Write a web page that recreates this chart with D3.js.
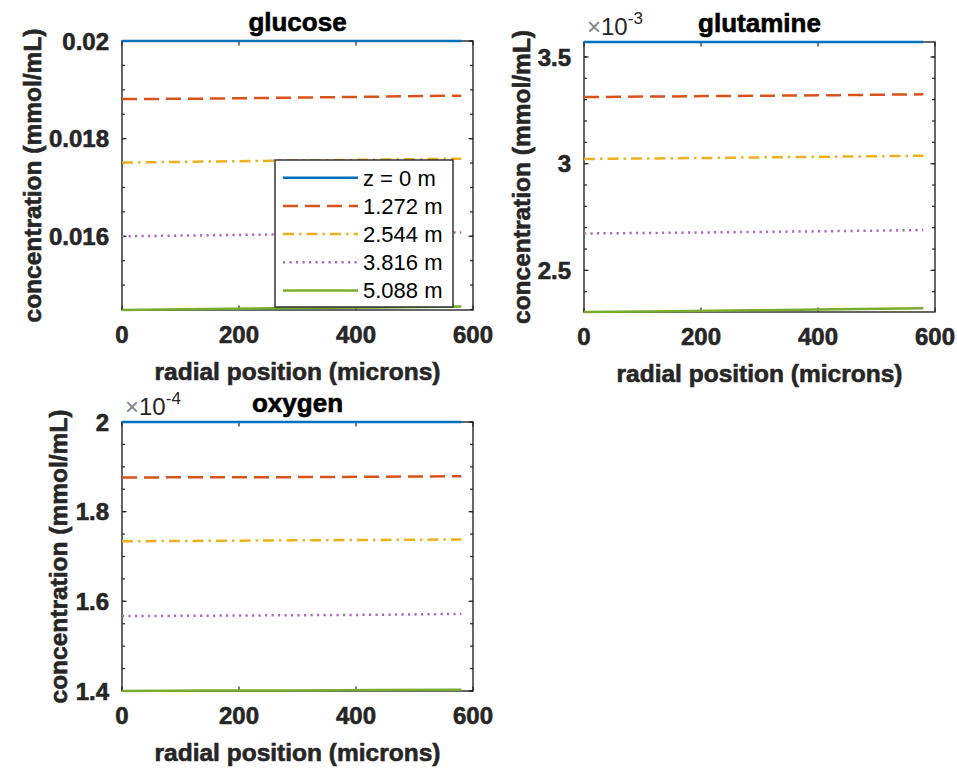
<!DOCTYPE html>
<html>
<head>
<meta charset="utf-8">
<script src="https://cdn.jsdelivr.net/npm/d3@7"></script>
<style>
  body { margin: 0; background: #fff; }
  svg { display: block; font-family: "Liberation Sans", Arial, sans-serif; }
  .heavy { stroke: currentColor; stroke-width: 0.6px; }
</style>
</head>
<body>
<svg width="957" height="769"></svg>
<script>
// radial positions (microns) at which the profiles were sampled
const radius = [0, 145, 290, 435, 580];
const zLabels = ['z = 0 m', '1.272 m', '2.544 m', '3.816 m', '5.088 m'];

// concentration (mmol/mL), one row per axial position z
const glucose = [
  [0.02000, 0.02000, 0.02000, 0.02000, 0.02000],
  [0.01881, 0.01882, 0.01884, 0.01886, 0.01888],
  [0.01751, 0.01753, 0.01755, 0.01757, 0.01759],
  [0.01600, 0.01602, 0.01604, 0.01606, 0.01608],
  [0.01449, 0.01451, 0.01453, 0.01454, 0.01456]
];
const glutamine = [
  [0.003570, 0.003570, 0.003570, 0.003570, 0.003570],
  [0.003312, 0.003315, 0.003318, 0.003321, 0.003325],
  [0.003022, 0.003025, 0.003029, 0.003033, 0.003037],
  [0.002673, 0.002676, 0.002680, 0.002684, 0.002689],
  [0.002305, 0.002309, 0.002313, 0.002318, 0.002323]
];
const oxygen = [
  [2.000e-4, 2.000e-4, 2.000e-4, 2.000e-4, 2.000e-4],
  [1.876e-4, 1.877e-4, 1.877e-4, 1.878e-4, 1.879e-4],
  [1.734e-4, 1.735e-4, 1.736e-4, 1.737e-4, 1.738e-4],
  [1.567e-4, 1.568e-4, 1.569e-4, 1.570e-4, 1.572e-4],
  [1.400e-4, 1.401e-4, 1.401e-4, 1.402e-4, 1.403e-4]
];

// tick values and labels
const xTicks = [0, 200, 400, 600];
const glucoseTicks = [0.016, 0.018, 0.02];
const glucoseTickLabels = ['0.016', '0.018', '0.02'];
const glutamineTicks = [0.0025, 0.003, 0.0035];
const glutamineTickLabels = ['2.5', '3', '3.5'];
const oxygenTicks = [1.4e-4, 1.6e-4, 1.8e-4, 2e-4];
const oxygenTickLabels = ['1.4', '1.6', '1.8', '2'];

// MATLAB default line order
const colors = ['#0072BD', '#D95319', '#EDB120', '#a56cb8', '#77AC30'];
const dashes = [null, '15,7', '11,5,2.5,5', '2.2,4.3', null];

const panels = [
  { title: 'glucose', data: glucose, ticks: glucoseTicks, labels: glucoseTickLabels,
    minor: 0.0005, exp: null, x: 122, y: 41, w: 351, h: 269, ylabX: 41, legend: true },
  { title: 'glutamine', data: glutamine, ticks: glutamineTicks, labels: glutamineTickLabels,
    minor: 0.0001, exp: '-3', x: 584, y: 42, w: 351, h: 270, ylabX: 530 },
  { title: 'oxygen', data: oxygen, ticks: oxygenTicks, labels: oxygenTickLabels,
    minor: 0.05e-4, exp: '-4', x: 122, y: 422, w: 351, h: 269, ylabX: 67 }
];

const svg = d3.select('svg');
const axisColor = '#262626';

panels.forEach(p => {
  const xScale = d3.scaleLinear().domain([0, 600]).range([p.x, p.x + p.w]);
  const yScale = d3.scaleLinear()
    .domain(d3.extent(p.data.flat()))
    .range([p.y + p.h, p.y]);

  const g = svg.append('g').style('color', axisColor);

  // box
  g.append('rect')
    .attr('x', p.x).attr('y', p.y)
    .attr('width', p.w).attr('height', p.h)
    .attr('fill', 'none')
    .attr('stroke', axisColor)
    .attr('stroke-width', 1.4);

  // ticks, all pointing inward
  const ticks = g.append('g');
  const [lo, hi] = yScale.domain();
  const minorTicks = d3.range(Math.ceil(lo / p.minor - 1e-6), Math.floor(hi / p.minor + 1e-6) + 1)
    .map(k => k * p.minor);
  minorTicks.forEach(v => {
    const y = yScale(v);
    ticks.append('line').attr('x1', p.x).attr('x2', p.x + 3).attr('y1', y).attr('y2', y);
    ticks.append('line').attr('x1', p.x + p.w).attr('x2', p.x + p.w - 3).attr('y1', y).attr('y2', y);
  });
  p.ticks.forEach(v => {
    const y = yScale(v);
    ticks.append('line').attr('x1', p.x).attr('x2', p.x + 4.5).attr('y1', y).attr('y2', y);
    ticks.append('line').attr('x1', p.x + p.w).attr('x2', p.x + p.w - 4.5).attr('y1', y).attr('y2', y);
  });
  xTicks.forEach(v => {
    const x = xScale(v);
    ticks.append('line').attr('x1', x).attr('x2', x).attr('y1', p.y + p.h).attr('y2', p.y + p.h - 4.5);
    ticks.append('line').attr('x1', x).attr('x2', x).attr('y1', p.y).attr('y2', p.y + 4.5);
  });
  ticks.selectAll('line').attr('stroke', axisColor).attr('stroke-width', 1.2);

  // lines
  const line = d3.line()
    .x((d, i) => xScale(radius[i]))
    .y(d => yScale(d));

  g.selectAll('path.series')
    .data(p.data)
    .enter()
    .append('path')
      .classed('series', true)
      .attr('d', line)
      .attr('fill', 'none')
      .attr('stroke', (d, i) => colors[i])
      .attr('stroke-width', 2.5)
      .attr('stroke-dasharray', (d, i) => dashes[i]);

  // tick labels
  g.selectAll('text.ytick')
    .data(p.ticks)
    .enter()
    .append('text')
      .classed('heavy', true)
      .attr('x', p.x - 13)
      .attr('y', d => yScale(d))
      .attr('dy', '0.36em')
      .attr('text-anchor', 'end')
      .style('font-size', '24px')
      .style('font-weight', 'bold')
      .attr('fill', axisColor)
      .text((d, i) => p.labels[i]);

  g.selectAll('text.xtick')
    .data(xTicks)
    .enter()
    .append('text')
      .classed('heavy', true)
      .attr('x', d => xScale(d))
      .attr('y', p.y + p.h + 33)
      .attr('text-anchor', 'middle')
      .style('font-size', '24px')
      .style('font-weight', 'bold')
      .attr('fill', axisColor)
      .text(d => d);

  // axis labels and title
  g.append('text')
    .classed('heavy', true)
    .attr('x', p.x + p.w / 2)
    .attr('y', p.y + p.h + 70)
    .attr('text-anchor', 'middle')
    .attr('fill', axisColor)
    .style('font-size', '24.5px')
    .style('font-weight', 'bold')
    .text('radial position (microns)');

  g.append('text')
    .classed('heavy', true)
    .attr('transform', `translate(${p.ylabX}, ${p.y + p.h / 2}) rotate(-90)`)
    .attr('text-anchor', 'middle')
    .attr('fill', axisColor)
    .style('font-size', '24.5px')
    .style('font-weight', 'bold')
    .text('concentration (mmol/mL)');

  g.append('text')
    .classed('heavy', true)
    .attr('x', p.x + p.w / 2)
    .attr('y', p.y - 10)
    .attr('text-anchor', 'middle')
    .style('color', '#000')
    .style('font-size', '26px')
    .style('font-weight', 'bold')
    .text(p.title);

  // exponent label
  if (p.exp) {
    const ex = g.append('text')
      .attr('x', p.x + 3)
      .attr('y', p.y - 7)
      .attr('fill', axisColor)
      .style('font-size', '24px');
    ex.append('tspan').attr('fill', '#808080').text('\u00d7');
    ex.append('tspan').text('10');
    ex.append('tspan')
      .attr('dy', -11)
      .style('font-size', '17px')
      .text(p.exp);
  }

  // legend
  if (p.legend) {
    const lg = g.append('g').attr('transform', 'translate(275, 160)');
    lg.append('rect')
      .attr('width', 178).attr('height', 147)
      .attr('fill', '#fff')
      .attr('stroke', axisColor)
      .attr('stroke-width', 1.4);
    const rows = lg.selectAll('g.row')
      .data(zLabels)
      .enter()
      .append('g')
        .attr('transform', (d, i) => `translate(0, ${17.7 + i * 28.2})`);
    rows.append('line')
      .attr('x1', 8).attr('x2', 83)
      .attr('stroke', (d, i) => colors[i])
      .attr('stroke-width', 2.5)
      .attr('stroke-dasharray', (d, i) => dashes[i]);
    rows.append('text')
      .attr('x', 88)
      .attr('dy', '0.36em')
      .attr('fill', '#000')
      .style('font-size', '22px')
      .text(d => d);
  }
});
</script>
</body>
</html>
